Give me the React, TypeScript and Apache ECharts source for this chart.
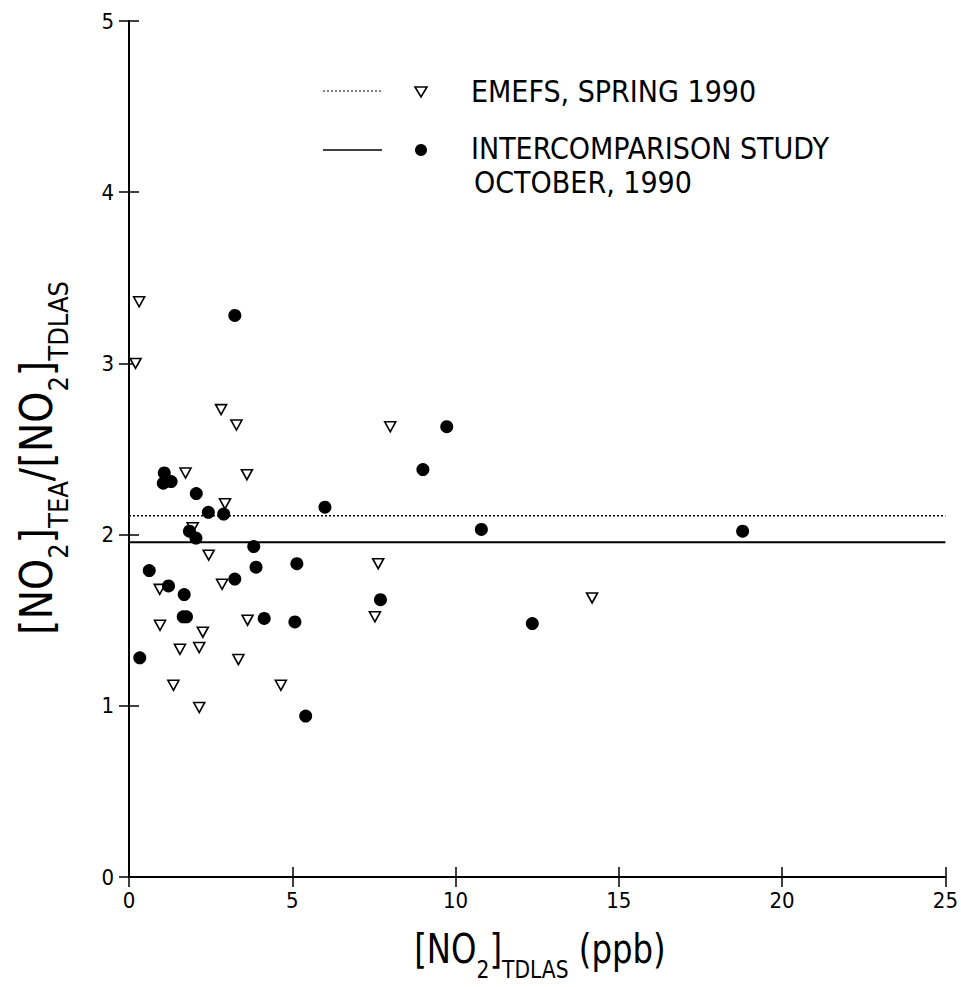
import React, { useEffect, useRef } from "react";
import * as echarts from "echarts";

// EMEFS, Spring 1990 (open down-triangles): [NO2]TDLAS (ppb), ratio
const emefsX = [0.31, 0.2, 2.82, 3.29, 1.73, 3.61, 2.94, 1.95, 2.44, 2.85, 0.94, 3.63, 0.95, 2.26, 1.56, 2.15, 3.35, 1.36, 4.65, 2.15, 8.0, 7.63, 7.53, 14.18];
const emefsY = [3.36, 3.0, 2.73, 2.64, 2.36, 2.35, 2.18, 2.04, 1.88, 1.71, 1.68, 1.5, 1.47, 1.43, 1.33, 1.34, 1.27, 1.12, 1.12, 0.99, 2.63, 1.83, 1.52, 1.63];

// Intercomparison study, October 1990 (filled circles)
const studyX = [3.24, 1.08, 1.05, 1.29, 2.06, 2.43, 2.9, 1.85, 2.05, 3.82, 0.62, 3.89, 5.14, 3.24, 1.21, 1.69, 1.66, 1.76, 4.14, 5.08, 0.33, 5.41, 9.73, 9.0, 6.0, 10.79, 7.7, 12.35, 18.79];
const studyY = [3.28, 2.36, 2.3, 2.31, 2.24, 2.13, 2.12, 2.02, 1.98, 1.93, 1.79, 1.81, 1.83, 1.74, 1.7, 1.65, 1.52, 1.52, 1.51, 1.49, 1.28, 0.94, 2.63, 2.38, 2.16, 2.03, 1.62, 1.48, 2.02];

// Mean ratio lines
const emefsMean = 2.11;
const studyMean = 1.955;
const xRange = [0, 25];

const xTicks = [0, 5, 10, 15, 20, 25];
const yTicks = [0, 1, 2, 3, 4, 5];

const legendLabels = ["EMEFS, SPRING 1990", "INTERCOMPARISON STUDY", "OCTOBER, 1990"];
const xTitle = "{a|[NO}{s|2}{a|]}{s|TDLAS}{a| (ppb)}";
const yTitle = "{a|[NO}{s|2}{a|]}{s|TEA}{a|/[NO}{s|2}{a|]}{s|TDLAS}";

const FONT = "'DejaVu Sans Condensed', 'DejaVu Sans', sans-serif";

export default function App() {
  const ref = useRef<HTMLDivElement>(null);
  useEffect(() => {
    if (!ref.current) return;
    const chart = echarts.init(ref.current, null, { renderer: "svg" });
    const pair = (xs: number[], ys: number[]) => xs.map((x, i) => [x, ys[i]]);
    const axisCommon = {
      type: "value" as const,
      axisLine: { show: true, lineStyle: { color: "#000", width: 2 } },
      axisTick: { show: true, inside: true, length: 10, lineStyle: { color: "#000", width: 1.5 } },
      splitLine: { show: false },
    };
    const titleRich = (main: number, sub: number, shift: number) => ({
      a: { fontSize: main, fontFamily: FONT, fill: "#000", color: "#000", verticalAlign: "bottom", padding: [0, 0, shift, 0] },
      s: { fontSize: sub, fontFamily: FONT, fill: "#000", color: "#000", verticalAlign: "bottom" },
    });
    chart.setOption({
      animation: false,
      backgroundColor: "#fff",
      grid: { left: 129, right: 15, top: 21, bottom: 110 },
      xAxis: [
        {
          ...axisCommon,
          min: xTicks[0],
          max: xTicks[xTicks.length - 1],
          interval: 5,
          axisLabel: { fontSize: 22, fontFamily: FONT, color: "#000", margin: 12 },
        },
        {
          ...axisCommon,
          position: "top",
          min: xTicks[0],
          max: xTicks[xTicks.length - 1],
          interval: 5,
          axisLabel: { show: false },
        },
      ],
      yAxis: [
        {
          ...axisCommon,
          min: yTicks[0],
          max: yTicks[yTicks.length - 1],
          interval: 1,
          axisLabel: { fontSize: 22, fontFamily: FONT, color: "#000", margin: 15 },
        },
        {
          ...axisCommon,
          position: "right",
          min: yTicks[0],
          max: yTicks[yTicks.length - 1],
          interval: 1,
          axisLabel: { show: false },
        },
      ],
      series: [
        {
          type: "line",
          name: "EMEFS mean",
          data: [[xRange[0], emefsMean], [xRange[1], emefsMean]],
          showSymbol: false,
          symbol: "none",
          lineStyle: { color: "#000", width: 1.3, type: [2, 2] },
          z: 1,
        },
        {
          type: "line",
          name: "Study mean",
          data: [[xRange[0], studyMean], [xRange[1], studyMean]],
          showSymbol: false,
          symbol: "none",
          lineStyle: { color: "#000", width: 2 },
          z: 1,
        },
        {
          type: "scatter",
          name: legendLabels[0],
          data: pair(emefsX, emefsY),
          symbol: "triangle",
          symbolRotate: 180,
          symbolSize: [11, 10],
          itemStyle: { color: "#fff", borderColor: "#000", borderWidth: 1.6, opacity: 1 },
          z: 3,
        },
        {
          type: "scatter",
          name: legendLabels[1] + " " + legendLabels[2],
          data: pair(studyX, studyY),
          symbol: "circle",
          symbolSize: 13,
          itemStyle: { color: "#000", opacity: 1 },
          z: 4,
        },
      ],
      graphic: [
        { type: "line", shape: { x1: 323, y1: 91, x2: 382, y2: 91 }, style: { stroke: "#000", lineWidth: 1, lineDash: [2, 2] } },
        { type: "polygon", shape: { points: [[415, 87], [427, 87], [421, 97]] }, style: { fill: "#fff", stroke: "#000", lineWidth: 1.6 } },
        { type: "text", x: 471, y: 91, style: { text: legendLabels[0], font: `30px ${FONT}`, fill: "#000", verticalAlign: "middle" } },
        { type: "line", shape: { x1: 323, y1: 150, x2: 382, y2: 150 }, style: { stroke: "#000", lineWidth: 1.6 } },
        { type: "circle", shape: { cx: 421, cy: 150, r: 6 }, style: { fill: "#000" } },
        { type: "text", x: 471, y: 148, style: { text: legendLabels[1], font: `30px ${FONT}`, fill: "#000", verticalAlign: "middle" } },
        { type: "text", x: 474, y: 182, style: { text: legendLabels[2], font: `30px ${FONT}`, fill: "#000", verticalAlign: "middle" } },
        {
          type: "text",
          x: 540,
          y: 956,
          scaleX: 0.9,
          style: { text: xTitle, rich: titleRich(40, 25, 13), align: "center", verticalAlign: "middle", fill: "#000" },
        },
        {
          type: "text",
          x: 43,
          y: 458,
          rotation: Math.PI / 2,
          scaleX: 1.0,
          style: { text: yTitle, rich: titleRich(44, 27, 14), align: "center", verticalAlign: "middle", fill: "#000" },
        },
      ],
    });
    return () => chart.dispose();
  }, []);
  return <div ref={ref} style={{ width: 961, height: 987, position: "absolute", left: 0, top: 0 }} />;
}
